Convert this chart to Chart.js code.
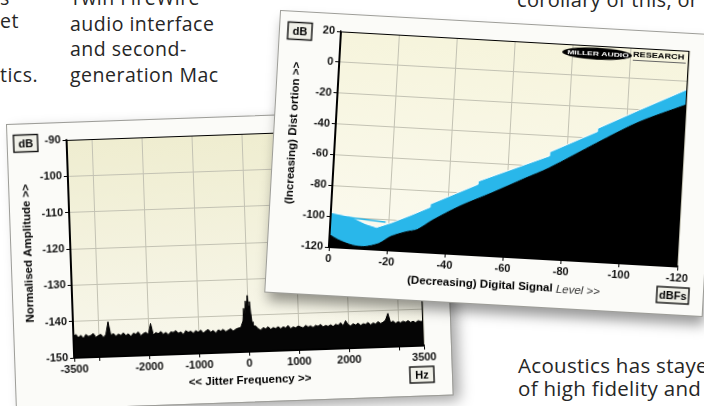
<!DOCTYPE html>
<html><head><meta charset="utf-8">
<script src="https://cdn.jsdelivr.net/npm/chart.js@4"></script>
<style>
html,body{margin:0;padding:0;background:#fff;width:704px;height:406px;overflow:hidden;}
body{position:relative;font-family:"Open Sans","Noto Sans",sans-serif;color:#262626;}
.t{position:absolute;line-height:1;white-space:nowrap;font-size:19.5px;letter-spacing:0.5px;z-index:0}
.card{position:absolute;background:#fbfbf8;transform-origin:0 0;outline:1px solid #9d9d98;}
#cardL{left:7px;top:125px;width:436px;height:285px;transform:rotate(-2deg);box-shadow:7px 6px 14px rgba(0,0,0,.35);z-index:1}
#cardR{left:281px;top:11px;width:437px;height:281px;transform:rotate(3.2deg);box-shadow:3px 9px 12px rgba(0,0,0,.4);z-index:2}
canvas{position:absolute;left:0;top:0}
</style></head>
<body>
<div class="t" style="left:0;top:-12px">s</div>
<div class="t" style="left:0;top:11px">et</div>
<div class="t" style="left:0;top:65px">tics.</div>
<div class="t" style="left:70px;top:-12px">Twin FireWire</div>
<div class="t" style="left:70px;top:14px">audio interface</div>
<div class="t" style="left:70px;top:39px">and second-</div>
<div class="t" style="left:70px;top:65px">generation Mac</div>
<div class="t" style="left:517px;top:-10px;font-size:20px;letter-spacing:0.3px">corollary of this, or</div>
<div class="t" style="left:518px;top:355px;font-size:20.5px;letter-spacing:0.3px">Acoustics has stayed</div>
<div class="t" style="left:518px;top:378px;font-size:20.5px;letter-spacing:0.3px">of high fidelity and</div>

<div class="card" id="cardL"><canvas id="jitter" width="436" height="285"></canvas></div>
<div class="card" id="cardR"><canvas id="thd" width="437" height="281"></canvas></div>

<script>
// ---------- Jitter spectrum (left chart) ----------
const jitterHz = [
-3500,-3450,-3400,-3350,-3300,-3250,-3200,-3150,-3100,-3050,
-3000,-2950,-2900,-2850,-2800,-2750,-2700,-2650,-2600,-2550,
-2500,-2450,-2400,-2350,-2300,-2250,-2200,-2150,-2100,-2050,
-2000,-1950,-1900,-1850,-1800,-1750,-1700,-1650,-1600,-1550,
-1500,-1450,-1400,-1350,-1300,-1250,-1200,-1150,-1100,-1050,
-1000,-950,-900,-850,-800,-750,-700,-650,-600,-550,
-500,-450,-400,-350,-300,-250,-200,
-150,-100,-80,-60,-40,-20,0,20,40,60,80,100,
150,200,250,300,350,400,450,500,550,600,
650,700,750,800,850,900,950,1000,1050,1100,
1150,1200,1250,1300,1350,1400,1450,1500,1550,1600,
1650,1700,1750,1800,1850,1900,1950,2000,2050,2100,
2150,2200,2250,2300,2350,2400,2450,2500,2550,2600,
2650,2700,2750,2800,2850,2900,2950,3000,3050,3100,
3150,3200,3250,3300,3350,3400,3450,3500];
const jitterDb = [
-144.2,-143.6,-144.5,-143.9,-144.8,-143.7,-144.3,-144.0,-143.5,-144.6,
-144.1,-143.8,-144.7,-143.9,-140.4,-144.2,-143.7,-144.5,-143.9,-144.3,
-143.6,-144.4,-143.9,-144.7,-143.8,-144.1,-143.5,-144.6,-144.0,-143.7,
-144.3,-141.3,-144.5,-143.8,-144.2,-143.6,-144.4,-143.9,-144.6,-143.8,
-144.0,-143.5,-144.3,-143.9,-144.7,-143.6,-144.1,-143.8,-144.4,-143.7,
-144.2,-143.6,-144.5,-143.9,-143.5,-144.3,-143.8,-144.6,-143.7,-144.1,
-143.6,-144.3,-143.9,-143.5,-144.2,-143.7,-143.4,
-143.3,-141.5,-138.0,-139.8,-136.0,-138.2,-134.5,-137.5,-136.2,-139.5,-141.8,-143.0,
-143.0,-143.8,-144.2,-143.5,-143.9,-143.3,-144.1,-143.6,-143.9,-143.4,
-144.0,-143.5,-143.8,-143.2,-144.1,-143.6,-143.9,-143.4,-143.7,-144.0,
-143.3,-143.8,-143.5,-144.0,-143.4,-143.7,-143.2,-143.9,-143.5,-143.8,
-143.4,-143.9,-143.3,-143.6,-142.9,-143.8,-142.4,-143.5,-143.9,-143.3,
-143.7,-143.2,-143.9,-143.4,-143.6,-143.1,-143.8,-143.3,-143.6,-143.0,
-143.5,-143.2,-142.6,-140.8,-143.4,-143.0,-143.6,-143.2,-143.5,-143.1,
-143.4,-143.0,-143.5,-143.2,-143.6,-143.1,-143.3,-143.4];
const jitterTickHz  = [-3500,-3000,-2000,-1000,0,1000,2000,3000,3500];
const jitterLabelHz = [-3500,-2000,-1000,0,1000,2000,3500];
const jitterTickDb  = [-150,-140,-130,-120,-110,-100,-90];

// ---------- Distortion vs level (right chart) ----------
const levelCyanDbfs  = [0,-7,-12,-16,-21,-28,-34,-34,-50,-50,-74,-74,-90,-90,-104,-120];
const distCyanDb     = [-97.5,-99.5,-103.5,-105.5,-102,-96,-90.5,-88.5,-74,-72,-53,-50.5,-35.5,-33.5,-20,-5];
const levelBlackDbfs = [0,-3,-8,-12,-17,-21,-26,-30,-35,-44,-55,-66,-74,-90,-104,-120];
const distBlackDb    = [-112,-115,-118,-118.5,-116,-111,-107.5,-105.5,-99,-89,-79,-68.5,-61,-43,-28,-15];
const levelTraceDbfs = [-6,-19];
const distTraceDb    = [-100,-101.8];
const thdTickDbfs = [0,-20,-40,-60,-80,-100,-120];
const thdTickDb   = [-120,-100,-80,-60,-40,-20,0,20];

const FONT = '"Liberation Sans", Arial, sans-serif';
const tickFont = {family: FONT, size: 11, weight: 'bold'};
const CYAN = '#29b7ea';
const GRID = '#c3c2b3';

const pts = (xs, ys) => xs.map((x, i) => ({x: x, y: ys[i]}));

const plotBg = {
  id: 'plotBg',
  beforeDraw(chart, args, o) {
    const {ctx, chartArea: a} = chart;
    const g = ctx.createLinearGradient(a.left, a.top, a.left, a.bottom);
    g.addColorStop(0, o.top); g.addColorStop(1, o.bottom);
    ctx.save(); ctx.fillStyle = g;
    ctx.fillRect(a.left, a.top, a.right - a.left, a.bottom - a.top);
    ctx.restore();
  }
};

function box(ctx, cx, cy, w, h, text) {
  ctx.save();
  ctx.fillStyle = '#f0f0e8';
  ctx.fillRect(cx - w/2, cy - h/2, w, h);
  ctx.strokeStyle = '#111'; ctx.lineWidth = 1.4;
  ctx.strokeRect(cx - w/2, cy - h/2, w, h);
  ctx.fillStyle = '#000'; ctx.font = 'bold 11px ' + FONT;
  ctx.textAlign = 'center'; ctx.textBaseline = 'middle';
  ctx.fillText(text, cx, cy + 0.5);
  ctx.restore();
}

const decor = {
  id: 'decor',
  afterDatasetsDraw(chart, args, o) {
    const {ctx, chartArea: a} = chart;
    ctx.save();
    ctx.strokeStyle = '#000';
    ctx.lineWidth = 1;
    ctx.strokeRect(a.left + 0.5, a.top + 0.5, a.right - a.left - 1, a.bottom - a.top - 1);
    ctx.lineWidth = 2;
    ctx.beginPath(); ctx.moveTo(a.left, a.top); ctx.lineTo(a.left, a.bottom); ctx.lineTo(a.right, a.bottom); ctx.stroke();
    if (o.logo) {
      const cx = a.right - 92, cy = a.top + 8;
      ctx.beginPath(); ctx.ellipse(cx, cy, 35, 6, 0, 0, Math.PI * 2);
      ctx.fillStyle = '#000'; ctx.fill();
      ctx.font = 'bold 5.5px ' + FONT; ctx.textBaseline = 'middle';
      ctx.save(); ctx.translate(cx + 1, cy); ctx.scale(1.55, 1);
      ctx.fillStyle = '#fff'; ctx.textAlign = 'center'; ctx.fillText('MILLER AUDIO', 0, 0.5);
      ctx.restore();
      ctx.save(); ctx.translate(cx + 36, cy - 1); ctx.scale(1.45, 1);
      ctx.fillStyle = '#000'; ctx.textAlign = 'left'; ctx.font = 'bold 6.3px ' + FONT;
      ctx.fillText('RESEARCH', 0, 0);
      ctx.restore();
      ctx.strokeStyle = '#666'; ctx.lineWidth = 1;
      ctx.beginPath(); ctx.moveTo(cx + 36, cy + 4.5); ctx.lineTo(a.right - 3, cy + 4.5); ctx.stroke();
    }
    ctx.restore();
  },
  afterDraw(chart, args, o) {
    const {ctx, chartArea: a} = chart;
    ctx.save();
    ctx.fillStyle = '#000';
    ctx.font = 'bold 11.5px ' + FONT;
    ctx.textAlign = 'center'; ctx.textBaseline = 'middle';
    ctx.save();
    ctx.translate(a.left - 42, (a.top + a.bottom) / 2 + o.yTitleShift);
    ctx.rotate(-Math.PI / 2);
    ctx.fillText(o.yTitle, 0, 0);
    ctx.restore();
    const xc = (a.left + a.right) / 2, yc = a.bottom + 29;
    if (o.xTitleTail) {
      const f1 = 'bold 11.5px ' + FONT, f2 = 'italic 11.5px ' + FONT;
      ctx.font = f1; const w1 = ctx.measureText(o.xTitle).width;
      ctx.font = f2; const w2 = ctx.measureText(o.xTitleTail).width;
      const x0 = xc + 2 - (w1 + w2) / 2;
      ctx.textAlign = 'left';
      ctx.font = f1; ctx.fillText(o.xTitle, x0, yc);
      ctx.font = f2; ctx.fillStyle = '#333'; ctx.fillText(o.xTitleTail, x0 + w1, yc + 1);
    } else {
      ctx.fillText(o.xTitle, xc, yc);
    }
    ctx.restore();
    box(ctx, a.left - 41, a.top + 2, 24, 17, 'dB');
    box(ctx, a.right - 3, a.bottom + 29, o.unitW, 16, o.unit);
  }
};

function axisCommon(ticksArr, labelsArr, fitKey, fitVal) {
  return {
    type: 'linear',
    afterBuildTicks: s => { s.ticks = ticksArr.map(v => ({value: v})); },
    ticks: {
      font: tickFont, color: '#111', padding: 2, maxRotation: 0, autoSkip: false,
      callback: v => (labelsArr.includes(v) ? String(v) : '')
    },
    grid: {color: GRID, lineWidth: 1, tickLength: 4, tickColor: '#000'},
    border: {color: '#000', width: 1.5},
    afterFit: s => { s[fitKey] = fitVal; }
  };
}

Chart.defaults.font.family = FONT;

// Left chart
const jx = axisCommon(jitterTickHz, jitterLabelHz, 'height', 30);
jx.min = -3500; jx.max = 3500; jx.ticks.padding = 1;
const jy = axisCommon(jitterTickDb, jitterTickDb, 'width', 59);
jy.min = -150; jy.max = -90;

new Chart(document.getElementById('jitter'), {
  type: 'line',
  data: {datasets: [{
    data: pts(jitterHz, jitterDb),
    fill: 'start', backgroundColor: '#050505', borderColor: '#000', borderWidth: 1,
    pointRadius: 0, tension: 0
  }]},
  options: {
    responsive: false, animation: false, devicePixelRatio: 1,
    layout: {padding: {left: 0, right: 27, top: 17, bottom: 20}},
    scales: {x: jx, y: jy},
    plugins: {
      legend: {display: false}, tooltip: {enabled: false},
      plotBg: {top: '#efedd0', bottom: '#f8f7ec'},
      decor: {yTitle: 'Normalised Amplitude >>', yTitleShift: 3, xTitle: '<< Jitter Frequency >>', unit: 'Hz', unitW: 24, logo: false}
    }
  },
  plugins: [plotBg, decor]
});

// Right chart
const tx = axisCommon(thdTickDbfs, thdTickDbfs, 'height', 30);
tx.min = -120; tx.max = 0; tx.reverse = true; tx.ticks.padding = 1;
const ty = axisCommon(thdTickDb, thdTickDb, 'width', 61);
ty.min = -120; ty.max = 20;

new Chart(document.getElementById('thd'), {
  type: 'line',
  data: {datasets: [
    {data: pts(levelBlackDbfs, distBlackDb), fill: 'start', backgroundColor: '#000', borderColor: '#000',
     borderWidth: 1, pointRadius: 0, tension: 0.3},
    {data: pts(levelTraceDbfs, distTraceDb), fill: false, borderColor: CYAN, borderWidth: 1.5, pointRadius: 0},
    {data: pts(levelCyanDbfs, distCyanDb), fill: 'start', backgroundColor: CYAN, borderColor: '#ffffff',
     borderWidth: 1, pointRadius: 0, tension: 0}
  ]},
  options: {
    responsive: false, animation: false, devicePixelRatio: 1,
    layout: {padding: {left: 0, right: 27, top: 17, bottom: 18}},
    scales: {x: tx, y: ty},
    plugins: {
      legend: {display: false}, tooltip: {enabled: false},
      plotBg: {top: '#f6f4dc', bottom: '#fbfaef'},
      decor: {yTitle: '(Increasing) Dist ortion >>', yTitleShift: -4, xTitle: '(Decreasing) Digital Signal ',
              xTitleTail: 'Level >>', unit: 'dBFs', unitW: 32, logo: true}
    }
  },
  plugins: [plotBg, decor]
});
</script>
</body></html>
